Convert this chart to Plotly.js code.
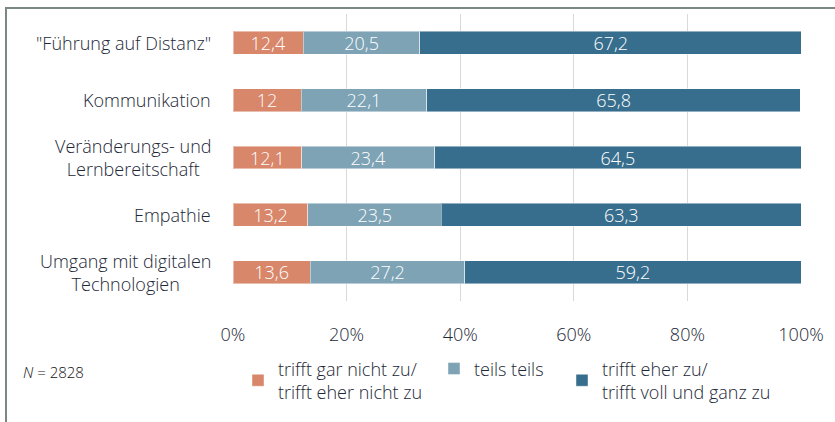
<!DOCTYPE html>
<html>
<head>
<meta charset="utf-8">
<script src="https://cdn.plot.ly/plotly-3.0.1.min.js"></script>
<style>
  html, body { margin: 0; padding: 0; background: #fff; }
  #frame { position: absolute; left: 5px; top: 7px; width: 840px; height: 430px;
           border-top: 2px solid #7a8782; border-left: 2px solid #7a8782; pointer-events: none; z-index: 5; }
  #chart { width: 835px; height: 422px; }
</style>
</head>
<body>
<div id="frame"></div>
<div id="chart"></div>
<script>
const categories = ['"Führung auf Distanz"', 'Kommunikation', 'Veränderungs- und<br>Lernbereitschaft', 'Empathie', 'Umgang mit digitalen<br>Technologien'];
const negative = [12.4, 12, 12.1, 13.2, 13.6];
const neutral  = [20.5, 22.1, 23.4, 23.5, 27.2];
const positive = [67.2, 65.8, 64.5, 63.3, 59.2];
const seriesNames = ['trifft gar nicht zu/<br>trifft eher nicht zu', 'teils teils', 'trifft eher zu/<br>trifft voll und ganz zu'];
const seriesColors = ['#d8876b', '#7da3b5', '#386e8d'];
const tickVals = [0, 20, 40, 60, 80, 100];
const tickText = ['0%', '20%', '40%', '60%', '80%', '100%'];
const noteText = '<i>N</i> = 2828';

const FONT = '"Open Sans", Lato, sans-serif';
const W = 300;
const TXT = '#1c2737';
const fmt = v => String(v).replace('.', ',');

const seriesData = [negative, neutral, positive];
const legendIds = ['legend', 'legend2', 'legend3'];
const traces = seriesData.map((vals, i) => ({
  type: 'bar',
  orientation: 'h',
  name: seriesNames[i],
  y: categories,
  x: vals,
  text: vals.map(fmt),
  textposition: 'inside',
  insidetextanchor: 'middle',
  textangle: 0,
  constraintext: 'none',
  textfont: { family: FONT, size: 18, weight: W, color: '#ffffff' },
  marker: { color: seriesColors[i], line: { color: 'rgba(255,255,255,0.45)', width: 1 } },
  legend: legendIds[i],
  hoverinfo: 'x+y+name'
}));

const annotations = categories.map(c => ({
  xref: 'paper', yref: 'y', x: -0.036, y: c,
  xanchor: 'right', yanchor: 'middle', align: 'center',
  text: c, showarrow: false,
  font: { family: FONT, size: 18, weight: W, color: TXT }
}));
annotations.push({
  xref: 'paper', yref: 'paper', x: -0.374, y: -0.247,
  xanchor: 'left', yanchor: 'middle', text: noteText, showarrow: false,
  font: { family: FONT, size: 15, weight: W, color: '#111111' }
});

const legendBase = {
  orientation: 'h', xanchor: 'left', y: -0.172, yanchor: 'top',
  font: { family: FONT, size: 18, weight: W, color: TXT },
  itemwidth: 30, bgcolor: 'rgba(0,0,0,0)'
};
// item text begins 40px right of the legend's left edge
const legendX = [278, 474, 602].map(px => (px - 40 - 233) / 568);

const layout = {
  width: 835, height: 422,
  margin: { l: 233, r: 34, t: 14, b: 118 },
  barmode: 'stack',
  bargap: 0.6,
  paper_bgcolor: '#ffffff',
  plot_bgcolor: '#ffffff',
  font: { family: FONT, color: TXT },
  xaxis: {
    range: [0, 100],
    tickvals: tickVals, ticktext: tickText,
    showgrid: true, gridcolor: '#d9d9d9', gridwidth: 1,
    zeroline: false, showline: false,
    tickfont: { family: FONT, size: 18, weight: W, color: TXT },
    ticks: 'outside', ticklen: 17, tickcolor: 'rgba(0,0,0,0)', tickangle: 0,
    automargin: false
  },
  yaxis: {
    type: 'category',
    categoryorder: 'array', categoryarray: categories,
    autorange: 'reversed',
    showticklabels: false, showgrid: false, zeroline: false, showline: false,
    automargin: false
  },
  showlegend: true,
  legend:  Object.assign({}, legendBase, { x: legendX[0] }),
  legend2: Object.assign({}, legendBase, { x: legendX[1] }),
  legend3: Object.assign({}, legendBase, { x: legendX[2] }),
  annotations: annotations
};

Plotly.newPlot('chart', traces, layout, { displayModeBar: false });
</script>
</body>
</html>
